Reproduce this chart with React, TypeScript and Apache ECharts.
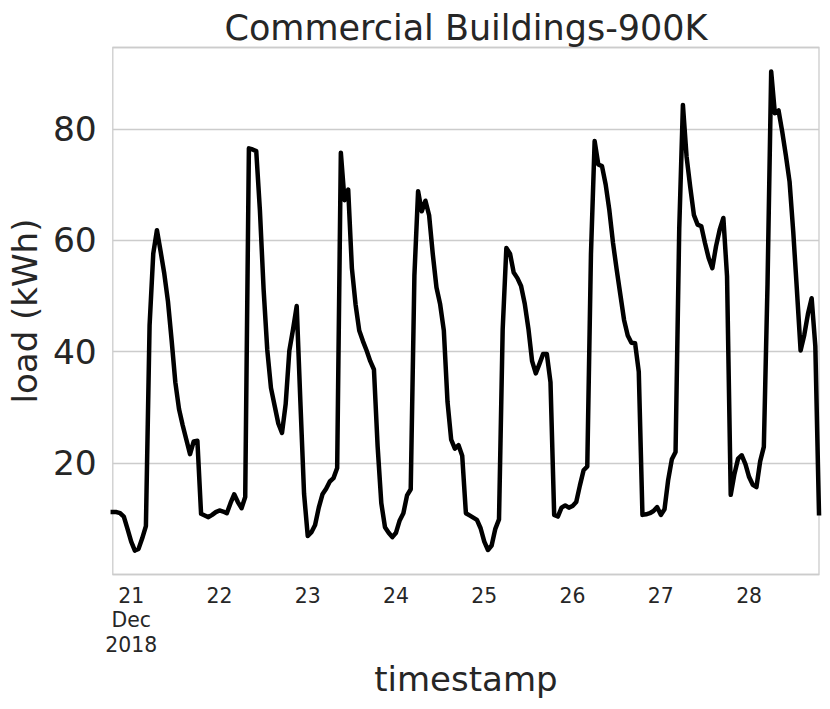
import React, { useEffect, useRef } from "react";
import * as echarts from "echarts";

// Hourly load, starting 2018-12-20 19:00 (index 0) to 2018-12-28 19:00 (index 192)
const startLabel = "2018-12-20 19:00";
const loadKWh: number[] = [
  // 0-9
  11.2, 11.2, 11.0, 10.4, 8.2, 5.9, 4.3, 4.6, 6.5, 8.7,
  // 10-19
  44.7, 57.6, 61.8, 58.0, 54.0, 49.0, 42.0, 34.5, 29.7, 26.8,
  // 20-29
  24.2, 21.6, 23.9, 24.0, 10.9, 10.6, 10.3, 10.7, 11.2, 11.5,
  // 30-39
  11.3, 11.0, 12.8, 14.4, 13.0, 11.9, 13.9, 76.5, 76.3, 76.0,
  // 40-49
  65.3, 51.2, 40.3, 33.5, 30.3, 27.1, 25.4, 30.6, 40.2, 44.0,
  // 50-59
  48.2, 31.0, 14.5, 6.9, 7.6, 8.9, 12.0, 14.4, 15.4, 16.7,
  // 60-69
  17.3, 19.1, 75.7, 67.2, 69.1, 55.0, 48.5, 43.8, 41.9, 40.2,
  // 70-79
  38.3, 36.8, 23.0, 12.8, 8.5, 7.5, 6.7, 7.5, 9.7, 11.0,
  // 80-89
  14.2, 15.3, 53.7, 68.8, 65.2, 67.1, 64.5, 57.5, 51.5, 48.5,
  // 90-99
  43.8, 31.0, 24.2, 22.6, 23.2, 21.3, 11.0, 10.6, 10.2, 9.8,
  // 100-109
  8.3, 5.9, 4.4, 5.2, 8.2, 9.9, 44.0, 58.6, 57.6, 54.2,
  // 110-119
  53.2, 51.8, 48.6, 44.1, 38.3, 36.1, 37.8, 39.6, 39.6, 34.5,
  // 120-129
  10.7, 10.4, 12.0, 12.4, 12.0, 12.3, 13.0, 16.0, 18.7, 19.4,
  // 130-139
  57.5, 77.8, 73.6, 73.3, 70.0, 65.4, 59.5, 54.7, 50.2, 45.7,
  // 140-149
  42.9, 41.6, 41.5, 36.4, 10.7, 10.8, 11.0, 11.4, 12.1, 10.7,
  // 150-159
  11.7, 17.0, 20.7, 22.0, 62.0, 84.3, 75.0, 69.5, 64.5, 62.8,
  // 160-169
  62.5, 59.5, 56.8, 55.0, 58.9, 61.9, 64.0, 53.5, 14.3, 18.0,
  // 170-179
  20.8, 21.4, 19.8, 17.5, 16.1, 15.7, 20.3, 22.9, 52.0, 90.3,
  // 180-189
  82.8, 83.3, 79.5, 75.2, 70.5, 61.5, 51.0, 40.2, 43.0, 46.8,
  // 190-192
  49.6, 41.0, 11.0,
];

// Midnight positions (hours since start) and their labels
const dayTickHours = [5, 29, 53, 77, 101, 125, 149, 173];
const dayTickLabels = ["21\nDec\n2018", "22", "23", "24", "25", "26", "27", "28"];
const yTickValues = [20, 40, 60, 80];

const titleText = "Commercial Buildings-900K";
const xName = "timestamp";
const yName = "load (kWh)";

const FONT = '"DejaVu Sans", "Liberation Sans", sans-serif';
const TEXT = "#262626";
const GRID = "#cccccc";

export default function App() {
  const ref = useRef<HTMLDivElement>(null);

  useEffect(() => {
    document.body.style.margin = "0";
    if (!ref.current) return;
    const chart = echarts.init(ref.current, null, { renderer: "svg" });
    const seriesData = loadKWh.map((v, i) => [i, v]);
    chart.setOption({
      animation: false,
      backgroundColor: "#ffffff",
      title: {
        text: titleText,
        left: 461,
        top: 3,
        textAlign: "center",
        textStyle: {
          fontFamily: FONT,
          fontSize: 35,
          fontWeight: "normal",
          color: TEXT,
          lineHeight: 40,
        },
      },
      grid: {
        left: 111,
        right: 11,
        top: 47.5,
        bottom: 134.5,
        show: true,
        borderColor: GRID,
        borderWidth: 1.3,
        backgroundColor: "transparent",
        containLabel: false,
      },
      xAxis: {
        type: "value",
        min: 0,
        max: loadKWh.length - 1,
        name: xName,
        nameLocation: "middle",
        nameGap: 82,
        nameTextStyle: {
          fontFamily: FONT,
          fontSize: 34,
          color: TEXT,
          lineHeight: 34,
        },
        axisLine: { show: false },
        axisTick: { show: false },
        splitLine: { show: false },
        axisLabel: {
          customValues: dayTickHours,
          formatter: (v: number) => {
            const idx = dayTickHours.indexOf(Math.round(v));
            return idx >= 0 ? dayTickLabels[idx] : "";
          },
          fontFamily: FONT,
          fontSize: 20.4,
          lineHeight: 24.5,
          color: TEXT,
          margin: 9,
          showMinLabel: true,
          showMaxLabel: true,
        },
      },
      yAxis: {
        type: "value",
        min: 0,
        max: 94.6,
        interval: 20,
        name: yName,
        nameLocation: "middle",
        nameGap: 68,
        nameRotate: 90,
        nameTextStyle: {
          fontFamily: FONT,
          fontSize: 34,
          color: TEXT,
          lineHeight: 34,
        },
        axisLine: { show: false },
        axisTick: { show: false },
        axisLabel: {
          fontFamily: FONT,
          fontSize: 34.5,
          color: TEXT,
          margin: 16,
          showMinLabel: false,
          showMaxLabel: false,
          formatter: (v: number) => (yTickValues.indexOf(v) >= 0 ? String(v) : ""),
        },
        splitLine: {
          show: true,
          lineStyle: { color: GRID, width: 1.3 },
        },
      },
      series: [
        {
          type: "line",
          name: startLabel,
          data: seriesData,
          showSymbol: false,
          symbol: "none",
          lineStyle: { color: "#000000", width: 4.5, join: "round", cap: "square" },
          itemStyle: { color: "#000000" },
          clip: true,
        },
      ],
    });
    return () => chart.dispose();
  }, []);

  return (
    <div
      ref={ref}
      style={{ position: "absolute", left: 0, top: 0, width: 830, height: 709, background: "#fff" }}
    />
  );
}
